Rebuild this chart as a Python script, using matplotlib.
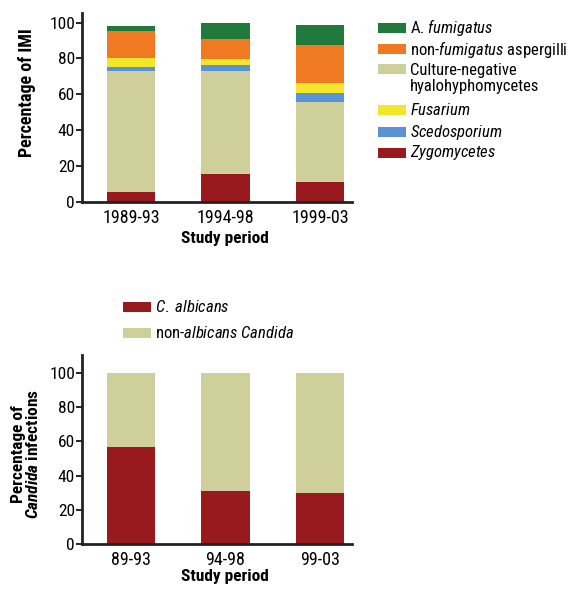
import matplotlib
matplotlib.use("Agg")
import matplotlib.pyplot as plt
from matplotlib import font_manager
from matplotlib.patches import Rectangle

# pick a narrow sans if one is installed
names = {f.name for f in font_manager.fontManager.ttflist}
font = "DejaVu Sans"
for cand in ["Liberation Sans Narrow", "Roboto Condensed", "Open Sans Condensed", "Liberation Sans"]:
    if cand in names:
        font = cand
        break

plt.rcParams["font.family"] = [font, "DejaVu Sans"]
plt.rcParams["mathtext.fontset"] = "custom"
plt.rcParams["mathtext.rm"] = font
plt.rcParams["mathtext.it"] = font + ":italic"
plt.rcParams["mathtext.bf"] = font + ":bold"
plt.rcParams["mathtext.bfit"] = font + ":italic:bold"

# top panel: invasive mould infections
periods_imi = ["1989-93", "1994-98", "1999-03"]
zygomycetes = [5.2, 15.5, 11.2]
culture_neg = [68.0, 57.7, 44.7]
scedosporium = [2.2, 3.2, 4.6]
fusarium = [4.7, 3.2, 6.0]
non_fumigatus = [15.3, 11.1, 21.0]
a_fumigatus = [2.6, 9.3, 11.2]

imi_labels = [
    r"A. $\mathit{fumigatus}$",
    r"non-$\mathit{fumigatus}$ aspergilli",
    "Culture-negative\nhyalohyphomycetes",
    r"$\mathit{Fusarium}$",
    r"$\mathit{Scedosporium}$",
    r"$\mathit{Zygomycetes}$",
]

# bottom panel: candida infections
periods_cand = ["89-93", "94-98", "99-03"]
albicans = [56.9, 31.2, 29.7]
non_albicans = [43.1, 68.8, 70.3]
cand_labels = [r"$\mathit{C.}$ $\mathit{albicans}$", r"non-$\mathit{albicans}$ $\mathit{Candida}$"]

c_green = "#1f7a3b"
c_orange = "#f07a22"
c_khaki = "#cfcf9b"
c_yellow = "#f3e62a"
c_blue = "#5a93d5"
c_red = "#991a1e"

W, H = 579, 589
fig = plt.figure(figsize=(W / 100, H / 100), dpi=100)


def px(x, y):
    return x / W, 1 - y / H


def style_axis(ax, ymax):
    ax.set_xlim(-0.52, 2.34)
    ax.set_ylim(0, ymax)
    for s in ["top", "right"]:
        ax.spines[s].set_visible(False)
    for s in ["left", "bottom"]:
        ax.spines[s].set_linewidth(2)
        ax.spines[s].set_color("#222222")
    ax.set_yticks([0, 20, 40, 60, 80, 100])
    ax.tick_params(axis="y", length=4, width=1.2, pad=1, labelsize=12.5)
    ax.tick_params(axis="x", length=0, pad=5, labelsize=13)


# ---- top chart
ax1 = fig.add_axes([82 / W, 1 - 201.7 / H, 270 / W, 188.7 / H])
x = range(len(periods_imi))
stack = [
    (zygomycetes, c_red),
    (culture_neg, c_khaki),
    (scedosporium, c_blue),
    (fusarium, c_yellow),
    (non_fumigatus, c_orange),
    (a_fumigatus, c_green),
]
bottom = [0, 0, 0]
for vals, col in stack:
    ax1.bar(x, vals, bottom=bottom, width=0.51, color=col, linewidth=0)
    bottom = [b + v for b, v in zip(bottom, vals)]
style_axis(ax1, 105.4)
ax1.set_xticks(list(x))
ax1.set_xticklabels(periods_imi)
fig.text(*px(225, 239), "Study period", ha="center", va="center", fontsize=12.5, fontweight="bold")
fig.text(*px(27, 93), "Percentage of IMI", ha="center", va="center", rotation=90,
         fontsize=13, fontweight="bold")

# top legend, drawn by hand so the patch sits on the first line
leg_cols = [c_green, c_orange, c_khaki, c_yellow, c_blue, c_red]
leg_y = [28, 49, 69, 110, 132, 153]
for lab, col, yy in zip(imi_labels, leg_cols, leg_y):
    fig.patches.append(Rectangle(px(378, yy + 4.5), 28 / W, 9 / H, transform=fig.transFigure,
                                 color=col, linewidth=0))
    if "\n" in lab:
        fig.text(*px(410, yy - 6), lab, ha="left", va="top", fontsize=12, linespacing=1.1)
    else:
        fig.text(*px(410, yy), lab, ha="left", va="center", fontsize=12)

# ---- bottom chart
ax2 = fig.add_axes([82 / W, 1 - 544.3 / H, 270 / W, 189.3 / H])
x2 = range(len(periods_cand))
ax2.bar(x2, albicans, width=0.51, color=c_red, linewidth=0)
ax2.bar(x2, non_albicans, bottom=albicans, width=0.51, color=c_khaki, linewidth=0)
style_axis(ax2, 110.3)
ax2.set_xticks(list(x2))
ax2.set_xticklabels(periods_cand)
fig.text(*px(225, 577), "Study period", ha="center", va="center", fontsize=12.5, fontweight="bold")
fig.text(*px(26, 454), "Percentage of\n" + r"$\mathbfit{Candida}$ infections", ha="center",
         va="center", rotation=90, fontsize=12.5, fontweight="bold", linespacing=1.0)

for lab, col, yy in zip(cand_labels, [c_red, c_khaki], [307, 333]):
    fig.patches.append(Rectangle(px(123, yy + 5), 28 / W, 10 / H, transform=fig.transFigure,
                                 color=col, linewidth=0))
    fig.text(*px(155, yy), lab, ha="left", va="center", fontsize=12)

fig.savefig("out.png", dpi=100)
